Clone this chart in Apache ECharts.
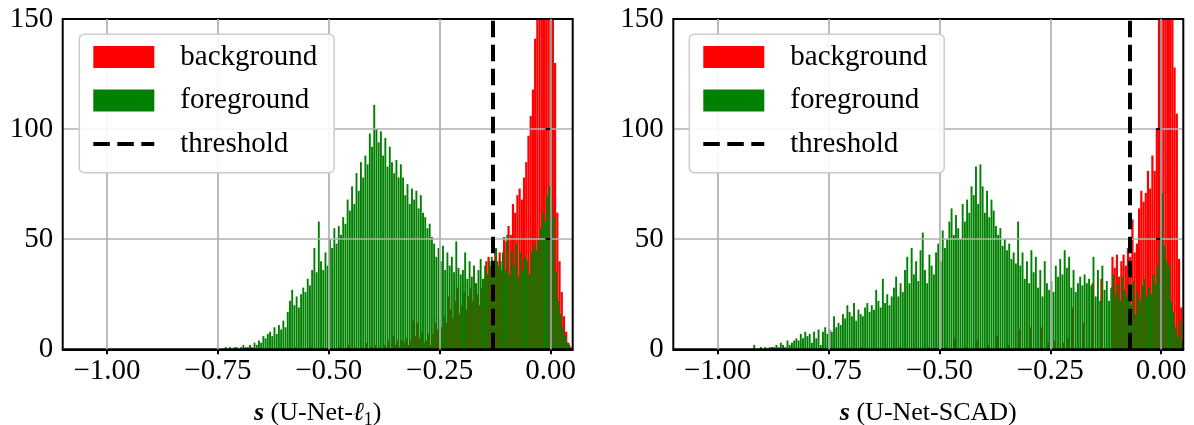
<!DOCTYPE html>
<html lang="en">
<head>
<meta charset="UTF-8">
<title>score histograms</title>
<script src="https://cdn.jsdelivr.net/npm/echarts@6/dist/echarts.min.js"></script>
<style>
	html, body { margin: 0; padding: 0; background: #fff; }
	#chart { width: 1194px; height: 425px; }
</style>
</head>
<body>
<div id="chart"></div>
<script>
	// histogram counts, one value per bin; a series starts at the left edge given
	var binWidth = 0.005;

	var leftGreenStart = -0.735;
	var leftGreen = [
		1, 0, 1, 0, 1, 1, 0, 1, 2, 1,
		1, 2, 1, 3, 2, 4, 3, 6, 5, 7,
		8, 6, 10, 7, 11, 9, 13, 10, 17, 22,
		27, 20, 24, 19, 25, 28, 26, 32, 29, 36,
		46, 35, 58, 40, 36, 44, 38, 50, 46, 55,
		48, 56, 52, 60, 57, 68, 63, 74, 66, 80,
		72, 85, 78, 88, 84, 98, 92, 111, 100, 94,
		99, 88, 96, 83, 92, 85, 80, 86, 78, 84,
		78, 70, 75, 66, 73, 68, 72, 64, 70, 62,
		60, 55, 57, 51, 48, 42, 46, 40, 47, 36,
		44, 38, 42, 35, 49, 37, 34, 36, 44, 32,
		40, 33, 38, 30, 36, 41, 32, 38, 34, 40,
		42, 37, 46, 38, 40, 44, 36, 52, 34, 45,
		38, 48, 33, 44, 36, 42, 40, 34, 44, 48,
		45, 50, 55, 62, 58, 70, 74, 66, 60, 35,
		22, 16, 10, 6, 3, 2
	];
	var leftRedStart = -0.6025;
	var leftRed = [
		0, 0, 0, 0, 0, 1, 0, 0, 0, 0,
		0, 0, 1, 0, 0, 0, 0, 1, 0, 0,
		1, 0, 0, 0, 0, 1, 0, 0, 0, 2,
		0, 0, 1, 0, 0, 1, 0, 3, 0, 1,
		0, 2, 0, 1, 0, 2, 1, 4, 0, 6,
		2, 4, 1, 4, 3, 5, 2, 4, 13, 6,
		12, 5, 8, 3, 4, 7, 2, 7, 12, 9,
		15, 10, 15, 12, 24, 18, 14, 22, 28, 16,
		20, 26, 18, 24, 28, 22, 30, 25, 20, 28,
		32, 40, 42, 38, 34, 46, 40, 44, 36, 51,
		49, 56, 52, 66, 62, 70, 73, 68, 78, 85,
		97, 106, 118, 141, 165, 190, 210, 235, 250, 220,
		180, 160, 130, 62, 40, 26, 15, 8, 3, 1
	];
	var leftThreshold = -0.132;

	var rightGreenStart = -0.925;
	var rightGreen = [
		0, 2, 0, 0, 1, 0, 1, 0, 1, 1,
		1, 2, 1, 3, 2, 1, 4, 2, 3, 4,
		5, 4, 7, 5, 8, 6, 7, 3, 8, 5,
		9, 2, 8, 10, 7, 9, 8, 15, 10, 12,
		11, 16, 14, 20, 17, 15, 21, 13, 18, 16,
		15, 19, 21, 17, 20, 18, 27, 22, 19, 32,
		21, 25, 20, 24, 28, 33, 24, 30, 26, 36,
		42, 30, 46, 34, 40, 31, 45, 53, 36, 30,
		43, 38, 34, 44, 48, 40, 54, 46, 50, 58,
		64, 52, 61, 55, 50, 66, 58, 68, 62, 74,
		70, 83, 66, 84, 74, 62, 72, 60, 68, 63,
		56, 52, 55, 47, 50, 45, 48, 41, 44, 39,
		58, 38, 44, 32, 40, 30, 45, 35, 42, 28,
		36, 24, 40, 30, 27, 31, 26, 38, 33, 41,
		34, 45, 37, 42, 28, 36, 26, 30, 33, 29,
		34, 30, 32, 29, 42, 24, 36, 22, 38, 27,
		31, 22, 28, 34, 25, 30, 22, 33, 27, 24,
		30, 20, 31, 16, 26, 22, 29, 32, 24, 28,
		25, 34, 30, 38, 49, 71, 47, 40, 38, 22,
		17, 10, 6, 13, 4
	];
	var rightRedStart = -0.7525;
	var rightRed = [
		0, 0, 0, 0, 0, 0, 0, 0, 0, 0,
		0, 0, 0, 0, 0, 1, 0, 0, 0, 0,
		0, 0, 0, 0, 0, 0, 0, 0, 0, 0,
		0, 0, 1, 0, 0, 0, 0, 0, 0, 0,
		0, 0, 0, 0, 0, 1, 0, 0, 0, 0,
		0, 0, 0, 1, 0, 0, 0, 5, 0, 0,
		0, 0, 1, 0, 0, 0, 0, 4, 0, 0,
		0, 0, 2, 0, 0, 0, 6, 0, 0, 0,
		0, 2, 0, 0, 0, 0, 9, 0, 0, 0,
		0, 10, 0, 0, 0, 0, 10, 0, 0, 3,
		0, 0, 4, 0, 0, 0, 3, 0, 5, 0,
		19, 0, 0, 0, 0, 12, 0, 0, 0, 30,
		0, 0, 0, 32, 0, 0, 0, 0, 42, 37,
		43, 33, 40, 43, 38, 46, 42, 59, 44, 48,
		64, 72, 67, 71, 81, 73, 88, 81, 100, 160,
		175, 210, 240, 220, 190, 160, 128, 107, 41, 19
	];
	var rightThreshold = -0.068;

	var xTicks = [-1.0, -0.75, -0.5, -0.25, 0.0];
	var xTickLabels = ['\u22121.00', '\u22120.75', '\u22120.50', '\u22120.25', '0.00'];
	var legendNames = ['background', 'foreground', 'threshold'];
	var axisTitles = ['{b|s} (U-Net-{l|\u2113}{sub|1})', '{b|s} (U-Net-SCAD)'];

	var FONT = "'Liberation Serif', 'Times New Roman', serif";

	function toBars(start, counts) {
		return counts.map(function (c, i) {
			return [start + (i + 0.5) * binWidth, c];
		});
	}

	var panels = [
		{ left: 62.7, legendLeft: 79.3, green: toBars(leftGreenStart, leftGreen), red: toBars(leftRedStart, leftRed), thr: leftThreshold },
		{ left: 673.3, legendLeft: 689.3, green: toBars(rightGreenStart, rightGreen), red: toBars(rightRedStart, rightRed), thr: rightThreshold }
	];

	var grids = [], xAxes = [], yAxes = [], legends = [], series = [];

	panels.forEach(function (p, k) {
		grids.push({
			left: p.left, top: 19, width: 510, height: 330.3,
			outerBoundsMode: 'none', containLabel: false,
			show: true, borderColor: '#000', borderWidth: 2,
			backgroundColor: 'transparent', z: 5
		});
		xAxes.push({
			type: 'value', gridIndex: k, min: -1.1, max: 0.05, z: 3,
			axisLine: { lineStyle: { color: '#000', width: 2 } },
			axisTick: { customValues: xTicks, length: 5, lineStyle: { color: '#000', width: 2 } },
			axisLabel: {
				customValues: xTicks, margin: 8, color: '#000',
				fontFamily: FONT, fontSize: 29,
				formatter: function (v) { return xTickLabels[xTicks.indexOf(v)]; }
			},
			splitLine: { show: false },
			name: axisTitles[k], nameLocation: 'middle', nameGap: 48,
			nameTextStyle: {
				fontFamily: FONT, fontSize: 26, color: '#000', lineHeight: 32,
				rich: {
					b: { fontFamily: FONT, fontSize: 26, fontWeight: 'bold', fontStyle: 'italic', color: '#000' },
					l: { fontFamily: FONT, fontSize: 26, fontStyle: 'italic', color: '#000' },
					sub: { fontFamily: FONT, fontSize: 18, color: '#000', verticalAlign: 'bottom' }
				}
			}
		});
		yAxes.push({
			type: 'value', gridIndex: k, min: 0, max: 150, interval: 50, z: 3,
			axisLine: { show: true, lineStyle: { color: '#000', width: 2 } },
			axisTick: { show: true, length: 5, lineStyle: { color: '#000', width: 2 } },
			axisLabel: { margin: 9.5, color: '#000', fontFamily: FONT, fontSize: 29 },
			splitLine: { show: true, lineStyle: { color: '#b0b0b0', width: 1.7 } }
		});
		legends.push({
			left: p.legendLeft, top: 34.3, orient: 'vertical',
			itemWidth: 61, itemHeight: 22, itemGap: 13.5,
			padding: [7.7, 17, 13.7, 12],
			backgroundColor: 'rgba(255,255,255,0.9)', borderColor: '#cccccc',
			borderWidth: 1.5, borderRadius: 5, z: 6, selectedMode: false,
			textStyle: { fontFamily: FONT, fontSize: 29, color: '#000', lineHeight: 30, padding: [0, 0, 0, 21] },
			lineStyle: { width: 4 },
			data: [
				{ name: legendNames[0], icon: 'rect' },
				{ name: legendNames[1], icon: 'rect' },
				// line series icon: keep the dashed line, hide the marker
				{ name: legendNames[2], itemStyle: { color: 'rgba(0,0,0,0)', borderWidth: 0 } }
			]
		});

		series.push({
			type: 'bar', name: legendNames[0], xAxisIndex: k, yAxisIndex: k,
			data: p.red, barWidth: 2.2, barGap: '-100%', z: 1, silent: true,
			itemStyle: { color: '#ff0000' }
		});
		series.push({
			type: 'bar', name: legendNames[1], xAxisIndex: k, yAxisIndex: k,
			data: p.green, barWidth: 1.9, barGap: '-100%', z: 2, silent: true,
			itemStyle: { color: '#008000' }
		});
		// vertical grid lines, on top of the bars like the y grid
		series.push({
			type: 'line', name: 'xgrid', xAxisIndex: k, yAxisIndex: k, data: [], z: 3,
			markLine: {
				silent: true, symbol: 'none', label: { show: false }, emphasis: { disabled: true },
				lineStyle: { color: '#b0b0b0', width: 1.7, type: 'solid' },
				data: xTicks.map(function (v) { return { xAxis: v }; })
			}
		});
		series.push({
			type: 'line', name: legendNames[2], xAxisIndex: k, yAxisIndex: k, data: [],
			symbol: 'none', color: '#000', z: 4,
			lineStyle: { color: '#000', width: 4, type: [16.5, 7.5] },
			markLine: {
				silent: true, symbol: 'none', label: { show: false }, emphasis: { disabled: true },
				lineStyle: { color: '#000', width: 4, type: [16.5, 7.5] },
				data: [{ xAxis: p.thr }]
			}
		});
	});

	var chart = echarts.init(document.getElementById('chart'));
	chart.setOption({
		animation: false,
		backgroundColor: '#fff',
		grid: grids,
		xAxis: xAxes,
		yAxis: yAxes,
		legend: legends,
		series: series
	});
</script>
</body>
</html>
